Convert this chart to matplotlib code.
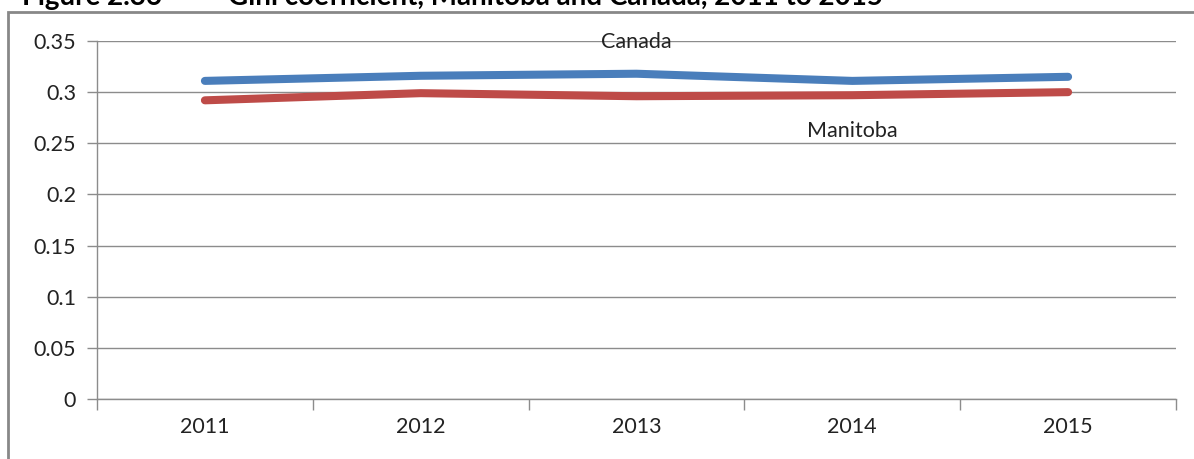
import matplotlib.pyplot as plt
from matplotlib.patches import Rectangle

# data
years = ['2011', '2012', '2013', '2014', '2015']
canada = [0.311, 0.316, 0.318, 0.311, 0.315]
manitoba = [0.292, 0.299, 0.296, 0.297, 0.300]
yticks = [0, 0.05, 0.1, 0.15, 0.2, 0.25, 0.3, 0.35]
ytick_labels = ['0', '0.05', '0.1', '0.15', '0.2', '0.25', '0.3', '0.35']

plt.rcParams['font.family'] = ['Lato', 'DejaVu Sans']

fig = plt.figure(figsize=(11.94, 4.59), dpi=100)
ax = fig.add_axes([97 / 1194, 60 / 459, (1176 - 97) / 1194, 358 / 459])

grid_col = '#8c8c8c'
txt_col = '#222222'
x = list(range(len(years)))

ax.plot(x, canada, color='#4a7ebb', linewidth=5.8, solid_capstyle='round', zorder=3)
ax.plot(x, manitoba, color='#be4b48', linewidth=5.8, solid_capstyle='round', zorder=3)

ax.set_xlim(-0.5, len(years) - 0.5)
ax.set_ylim(0, 0.35)
ax.set_yticks(yticks)
ax.set_yticklabels(ytick_labels, fontsize=15.5, color=txt_col)
ax.set_xticks(x)
ax.set_xticklabels(years, fontsize=15.5, color=txt_col)
ax.set_xticks([i - 0.5 for i in range(len(years) + 1)], minor=True)
ax.tick_params(axis='x', which='major', length=0, pad=13)
ax.tick_params(axis='x', which='minor', length=8, color=grid_col, width=1)
ax.tick_params(axis='y', length=7, color=grid_col, width=1, pad=8)

ax.grid(axis='y', color=grid_col, linewidth=1)
ax.set_axisbelow(True)
for s in ['top', 'right']:
    ax.spines[s].set_visible(False)
for s in ['left', 'bottom']:
    ax.spines[s].set_color(grid_col)
    ax.spines[s].set_linewidth(1)

# series labels
ax.text(2, 0.3495, 'Canada', ha='center', va='center', fontsize=15.5, color=txt_col)
ax.text(3, 0.262, 'Manitoba', ha='center', va='center', fontsize=15.5, color=txt_col)

# frame around the chart
fig.patches.append(Rectangle((8 / 1194, -0.1), 1.2, 1.1 - 12 / 459, transform=fig.transFigure,
                             fill=False, edgecolor='#888888', linewidth=2))

# title, mostly cut off at the top
fig.text(162 / 1194, 1 - 5 / 459, 'Figure 2.36', fontsize=20, fontweight='bold',
         ha='right', va='baseline')
fig.text(228 / 1194, 1 - 5 / 459, 'Gini coefficient, Manitoba and Canada, 2011 to 2015',
         fontsize=20, fontweight='bold', va='baseline')

fig.savefig('out.png', dpi=100)
